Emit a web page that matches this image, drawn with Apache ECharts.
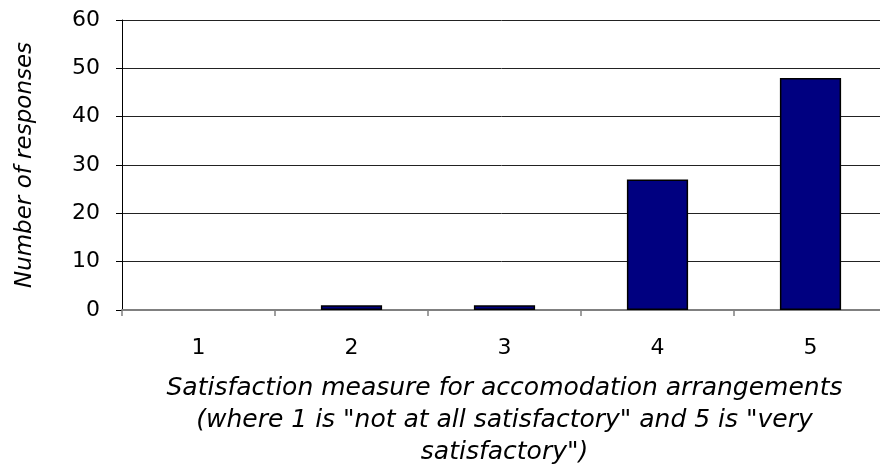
<!DOCTYPE html>
<html>
<head>
<meta charset="utf-8">
<script src="https://cdn.jsdelivr.net/npm/echarts@6/dist/echarts.min.js"></script>
<style>
html, body { margin: 0; padding: 0; background: #fff; }
#chart { width: 880px; height: 470px; }
</style>
</head>
<body>
<div id="chart"></div>
<script>
// satisfaction scores and response counts
var scores = ['1', '2', '3', '4', '5'];
var responses = [0, 1, 1, 27, 48];
var yTicks = [0, 10, 20, 30, 40, 50, 60];

var fontFamily = 'DejaVu Sans, Verdana, sans-serif';

// zero bars get no outline, like the original
var barData = responses.map(function(v){
	return v === 0 ? { value: v, itemStyle: { borderWidth: 0 } } : v;
});

var myChart = echarts.init(document.getElementById('chart'));
myChart.setOption({
	animation: false,
	grid: {
		left: 122,
		top: 20,
		width: 765,
		bottom: 160,
		outerBoundsMode: 'none'
	},
	xAxis: {
		type: 'category',
		data: scores,
		boundaryGap: true,
		name: 'Satisfaction measure for accomodation arrangements\n(where 1 is "not at all satisfactory" and 5 is "very\nsatisfactory")',
		nameLocation: 'middle',
		nameGap: 62,
		nameTextStyle: {
			color: '#000',
			fontSize: 25,
			fontStyle: 'italic',
			fontFamily: fontFamily,
			lineHeight: 32,
			align: 'center'
		},
		axisLine: { lineStyle: { color: '#808080', width: 2 } },
		axisTick: { show: true, alignWithLabel: false, length: 6, lineStyle: { color: '#808080', width: 1.5 } },
		axisLabel: {
			color: '#000',
			fontSize: 22,
			fontFamily: fontFamily,
			margin: 27
		},
		splitLine: { show: false }
	},
	yAxis: {
		type: 'value',
		min: yTicks[0],
		max: yTicks[yTicks.length - 1],
		interval: 10,
		name: 'Number of responses',
		nameLocation: 'middle',
		nameGap: 85,
		nameTextStyle: {
			color: '#000',
			fontSize: 23,
			fontStyle: 'italic',
			fontFamily: fontFamily
		},
		axisLine: { show: true, lineStyle: { color: '#000', width: 1 } },
		axisTick: { show: true, length: 6, lineStyle: { color: '#000', width: 1 } },
		axisLabel: {
			color: '#000',
			fontSize: 22,
			fontFamily: fontFamily,
			margin: 22
		},
		splitLine: { show: true, lineStyle: { color: '#222', width: 1 } }
	},
	series: [{
		type: 'bar',
		data: barData,
		barWidth: '40%',
		itemStyle: {
			color: '#000080',
			borderColor: '#000',
			borderWidth: 1.5
		}
	}]
});
</script>
</body>
</html>
